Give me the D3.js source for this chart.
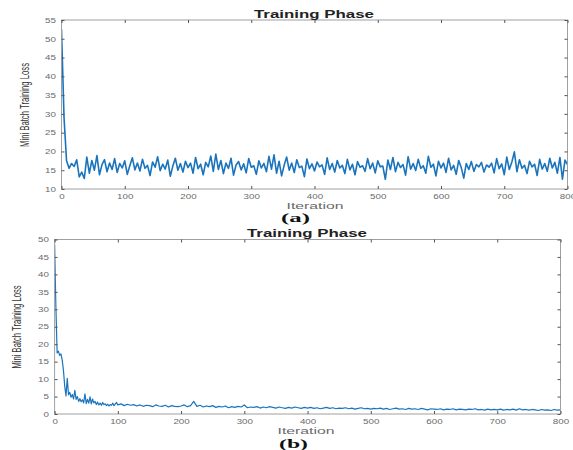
<!DOCTYPE html>
<html lang="en">
<head>
    <meta charset="UTF-8">
    <title>Training Phase | D3</title>
    <style>
        body { margin: 0; background: #fff; }
        text { font-family: "Liberation Sans", Arial, sans-serif; }
    </style>
</head>
<body>
    <div id="chart"></div>

    <script src="https://d3js.org/d3.v7.min.js"></script>
    <script>
        // Panel (a): loss sampled every 4 iterations, 0..800
        var iterA = d3.range(0, 801, 4);
        var lossA = [
            52.5, 29, 17.5, 15.5, 16.8, 16, 17.8, 13.2, 14.5, 12.8,
            18.5, 14.2, 17.6, 15, 18.9, 13.8, 16.5, 17.8, 14.6, 16.9,
            15.2, 18.1, 14.4, 16.8, 15.6, 17.5, 13.9, 16.2, 18.3, 15.1,
            16.9, 14.8, 17.9, 15.5, 16.3, 13.6, 17.2, 15.8, 18.6, 14.9,
            16.6, 15.3, 17.7, 13.4, 16.1, 18.2, 15, 16.8, 14.5, 17.4,
            15.7, 16.9, 14.2, 18.4, 15.4, 16.6, 13.8, 17.1, 15.9, 18.8,
            14.7, 19.3, 15.2, 17.6, 14.1, 16.9, 15.5, 18.2, 13.7, 16.4,
            17.3, 15.1, 16.7, 14.3, 18.1, 15.8, 16.2, 13.9, 17.5, 15.6,
            16.8, 14.6, 18.7, 15.3, 19.1, 14.2, 17.4, 13.5, 16.3, 18.5,
            15, 16.9, 14.4, 17.8, 15.7, 16.1, 13.3, 18, 15.4, 16.7,
            14.8, 17.2, 15.9, 16.4, 13.9, 18.3, 15.2, 16.8, 14.5, 17.6,
            15.6, 16.3, 14.1, 17.9, 15.1, 16.6, 13.8, 17.3, 15.8, 16.2,
            14.7, 18.1, 15.4, 16.9, 14.3, 17.5, 15.9, 16.1, 12.6, 17.7,
            15.2, 18.4, 14.6, 17.1, 15.7, 16.5, 13.7, 18.6, 15.3, 16.8,
            14.9, 17.9, 15.5, 16.2, 14.2, 18.7, 15.8, 16.6, 13.5, 17.4,
            15.6, 16.9, 14.4, 18.2, 15.1, 16.3, 13.9, 17.6, 15.7, 12.9,
            16.8, 15.2, 17.3, 14.7, 16.5, 15.9, 17.1, 14.5, 16.4, 15.8,
            16.9, 14.3, 18.1, 15.4, 16.7, 13.8, 18.5, 15.2, 17.2, 19.9,
            14.6, 17.8, 15.5, 16.3, 14.1, 17.4, 15.9, 16.6, 13.6, 17.9,
            15.3, 16.8, 14.7, 18.2, 15.6, 17.1, 14.2, 18.4, 12.6, 17.7,
            16.5
        ];

        // Panel (b): every 2 iterations up to 98, then every 5 up to 800
        var iterB = d3.range(0, 100, 2).concat(d3.range(100, 801, 5));
        var lossB = [
            48.5, 31, 17.5, 18, 16.8, 17.2, 15.5, 12.5, 8, 5.2,
            10.2, 5.5, 6.2, 4.8, 5.6, 4.3, 6.8, 4.2, 5, 3.6,
            4.4, 3.5, 4.1, 3.2, 5.8, 3, 4.2, 3.1, 4.9, 2.9,
            4.3, 3.2, 3.6, 2.7, 3.4, 2.6, 3.1, 2.5, 3.3, 2.7,
            2.9, 2.4, 2.8, 2.3, 2.7, 2.5, 3.1, 2.4, 2.9, 3.3,
            2.6, 2.9, 2.4, 2.8, 2.5, 2.7, 2.3, 2.6, 2.2, 2.5,
            2.4, 2.1, 2.6, 2.3, 2.2, 2.5, 2.0, 2.4, 2.2, 2.1,
            2.3, 2.6, 2.1, 2.4, 3.6, 2.2, 2.5, 2.0, 2.3, 2.1,
            2.4, 1.9, 2.2, 2.0, 2.3, 1.8, 2.1, 1.9, 2.2, 2.0,
            2.6, 1.8, 2.0, 1.9, 2.1, 1.7, 2.0, 1.8, 2.1, 1.9,
            1.7, 2.0, 1.8, 1.6, 1.9, 1.7, 2.0, 1.8, 1.6, 1.9,
            1.7, 1.9, 1.6, 1.8, 1.5, 1.7, 1.9, 1.6, 1.8, 1.5,
            1.7, 1.6, 1.8, 1.5, 1.7, 1.4, 1.6, 1.8, 1.5, 1.6,
            1.4, 1.6, 1.5, 1.7, 1.4, 1.6, 1.3, 1.5, 1.7, 1.4,
            1.5, 1.3, 1.6, 1.4, 1.5, 1.3, 1.6, 1.4, 1.2, 1.5,
            1.4, 1.3, 1.5, 1.2, 1.4, 1.3, 1.5, 1.2, 1.4, 1.3,
            1.2, 1.4, 1.3, 1.5, 1.2, 1.3, 1.1, 1.4, 1.2, 1.3,
            1.2, 1.4, 1.1, 1.3, 1.2, 1.4, 1.1, 1.5, 1.2, 1.3,
            1.1, 1.3, 1.2, 1.0, 1.3, 1.1, 1.2, 1.0, 1.3, 1.1,
            1.2
        ];

        var xTicks = [0, 100, 200, 300, 400, 500, 600, 700, 800];
        var yTicksA = [10, 15, 20, 25, 30, 35, 40, 45, 50, 55];
        var yTicksB = [0, 5, 10, 15, 20, 25, 30, 35, 40, 45, 50];

        var lineColor = "#1a74bd";
        var stretch = 1.4; // the picture is widened horizontally

        var svg = d3.select("#chart").append("svg")
            .attr("width", 573)
            .attr("height", 450);

        // Panel layouts in page pixels.
        var panels = [
            {
                iter: iterA, loss: lossA, yDomain: [10, 55], yTicks: yTicksA,
                left: 61.5, right: 567.5, top: 20, bottom: 189,
                title: "Training Phase", titleX: 314, titleY: 17.5,
                xlabelX: 315, xlabelY: 208.5, letter: "(a)", letterX: 295.5, letterY: 222,
                ylabelX: 25, ylabelY: 105, ylabelLen: 84, width: 1.6
            },
            {
                iter: iterB, loss: lossB, yDomain: [0, 50], yTicks: yTicksB,
                left: 54.6, right: 560.5, top: 239.5, bottom: 414,
                title: "Training Phase", titleX: 307, titleY: 237,
                xlabelX: 306, xlabelY: 434, letter: "(b)", letterX: 293.5, letterY: 447.5,
                ylabelX: 17, ylabelY: 327, ylabelLen: 83, width: 1.2
            }
        ];

        panels.forEach(function(p) {
            var x = d3.scaleLinear().domain([0, 800]).range([p.left, p.right]);
            var y = d3.scaleLinear().domain(p.yDomain).range([p.bottom, p.top]);
            var g = svg.append("g");

            // Clip so the line stays inside the box.
            var clipId = "clip" + p.top;
            svg.append("clipPath").attr("id", clipId)
                .append("rect")
                .attr("x", p.left).attr("y", p.top)
                .attr("width", p.right - p.left).attr("height", p.bottom - p.top);

            // Line
            var line = d3.line()
                .x(function(d, i) { return x(p.iter[i]); })
                .y(function(d) { return y(d); });

            g.append("path")
                .datum(p.loss)
                .attr("clip-path", "url(#" + clipId + ")")
                .attr("fill", "none")
                .attr("stroke", lineColor)
                .attr("stroke-width", p.width)
                .attr("stroke-linejoin", "round")
                .attr("d", line);

            // Box
            g.append("rect")
                .attr("x", p.left).attr("y", p.top)
                .attr("width", p.right - p.left).attr("height", p.bottom - p.top)
                .attr("fill", "none")
                .attr("stroke", "#a0a0a0")
                .attr("stroke-width", 1);

            // Bottom axis with labels, ticks pointing in
            var xAxis = g.append("g")
                .attr("transform", "translate(0," + p.bottom + ")")
                .call(d3.axisBottom(x).tickValues(xTicks).tickSizeInner(-3).tickSizeOuter(0).tickPadding(5));
            // Left axis with labels
            var yAxis = g.append("g")
                .attr("transform", "translate(" + p.left + ",0)")
                .call(d3.axisLeft(y).tickValues(p.yTicks).tickSizeInner(-3).tickSizeOuter(0).tickPadding(4));
            // Mirrored ticks on top and right
            var topAxis = g.append("g")
                .attr("transform", "translate(0," + p.top + ")")
                .call(d3.axisTop(x).tickValues(xTicks).tickSizeInner(-3).tickSizeOuter(0).tickFormat(""));
            var rightAxis = g.append("g")
                .attr("transform", "translate(" + p.right + ",0)")
                .call(d3.axisRight(y).tickValues(p.yTicks).tickSizeInner(-3).tickSizeOuter(0).tickFormat(""));

            [xAxis, yAxis, topAxis, rightAxis].forEach(function(a) {
                a.select(".domain").remove();
                a.selectAll("line").attr("stroke", "#555");
                a.selectAll("text")
                    .attr("fill", "#6a6a6a")
                    .style("font-size", "7px")
                    .attr("transform", "scale(" + stretch + ",1)");
            });

            // Title
            g.append("text")
                .attr("x", p.titleX).attr("y", p.titleY)
                .attr("text-anchor", "middle")
                .attr("textLength", 120)
                .attr("lengthAdjust", "spacingAndGlyphs")
                .style("font-size", "10px")
                .style("font-weight", "bold")
                .attr("fill", "#222")
                .text(p.title);

            // X label
            g.append("text")
                .attr("x", p.xlabelX).attr("y", p.xlabelY)
                .attr("text-anchor", "middle")
                .attr("textLength", 57)
                .attr("lengthAdjust", "spacingAndGlyphs")
                .style("font-size", "9px")
                .attr("fill", "#6a6a6a")
                .text("Iteration");

            // Panel letter
            g.append("text")
                .attr("x", p.letterX).attr("y", p.letterY)
                .attr("text-anchor", "middle")
                .attr("textLength", 29)
                .attr("lengthAdjust", "spacingAndGlyphs")
                .style("font-family", "'Liberation Serif', 'Times New Roman', serif")
                .style("font-size", "12px")
                .style("font-weight", "bold")
                .attr("fill", "#111")
                .text(p.letter);

            // Y label
            g.append("text")
                .attr("transform", "translate(" + p.ylabelX + "," + p.ylabelY + ") rotate(-90)")
                .attr("text-anchor", "middle")
                .attr("dy", "0.35em")
                .attr("textLength", p.ylabelLen)
                .attr("lengthAdjust", "spacingAndGlyphs")
                .style("font-size", "12px")
                .attr("fill", "#333")
                .text("Mini Batch Training Loss");
        });
    </script>
</body>
</html>
